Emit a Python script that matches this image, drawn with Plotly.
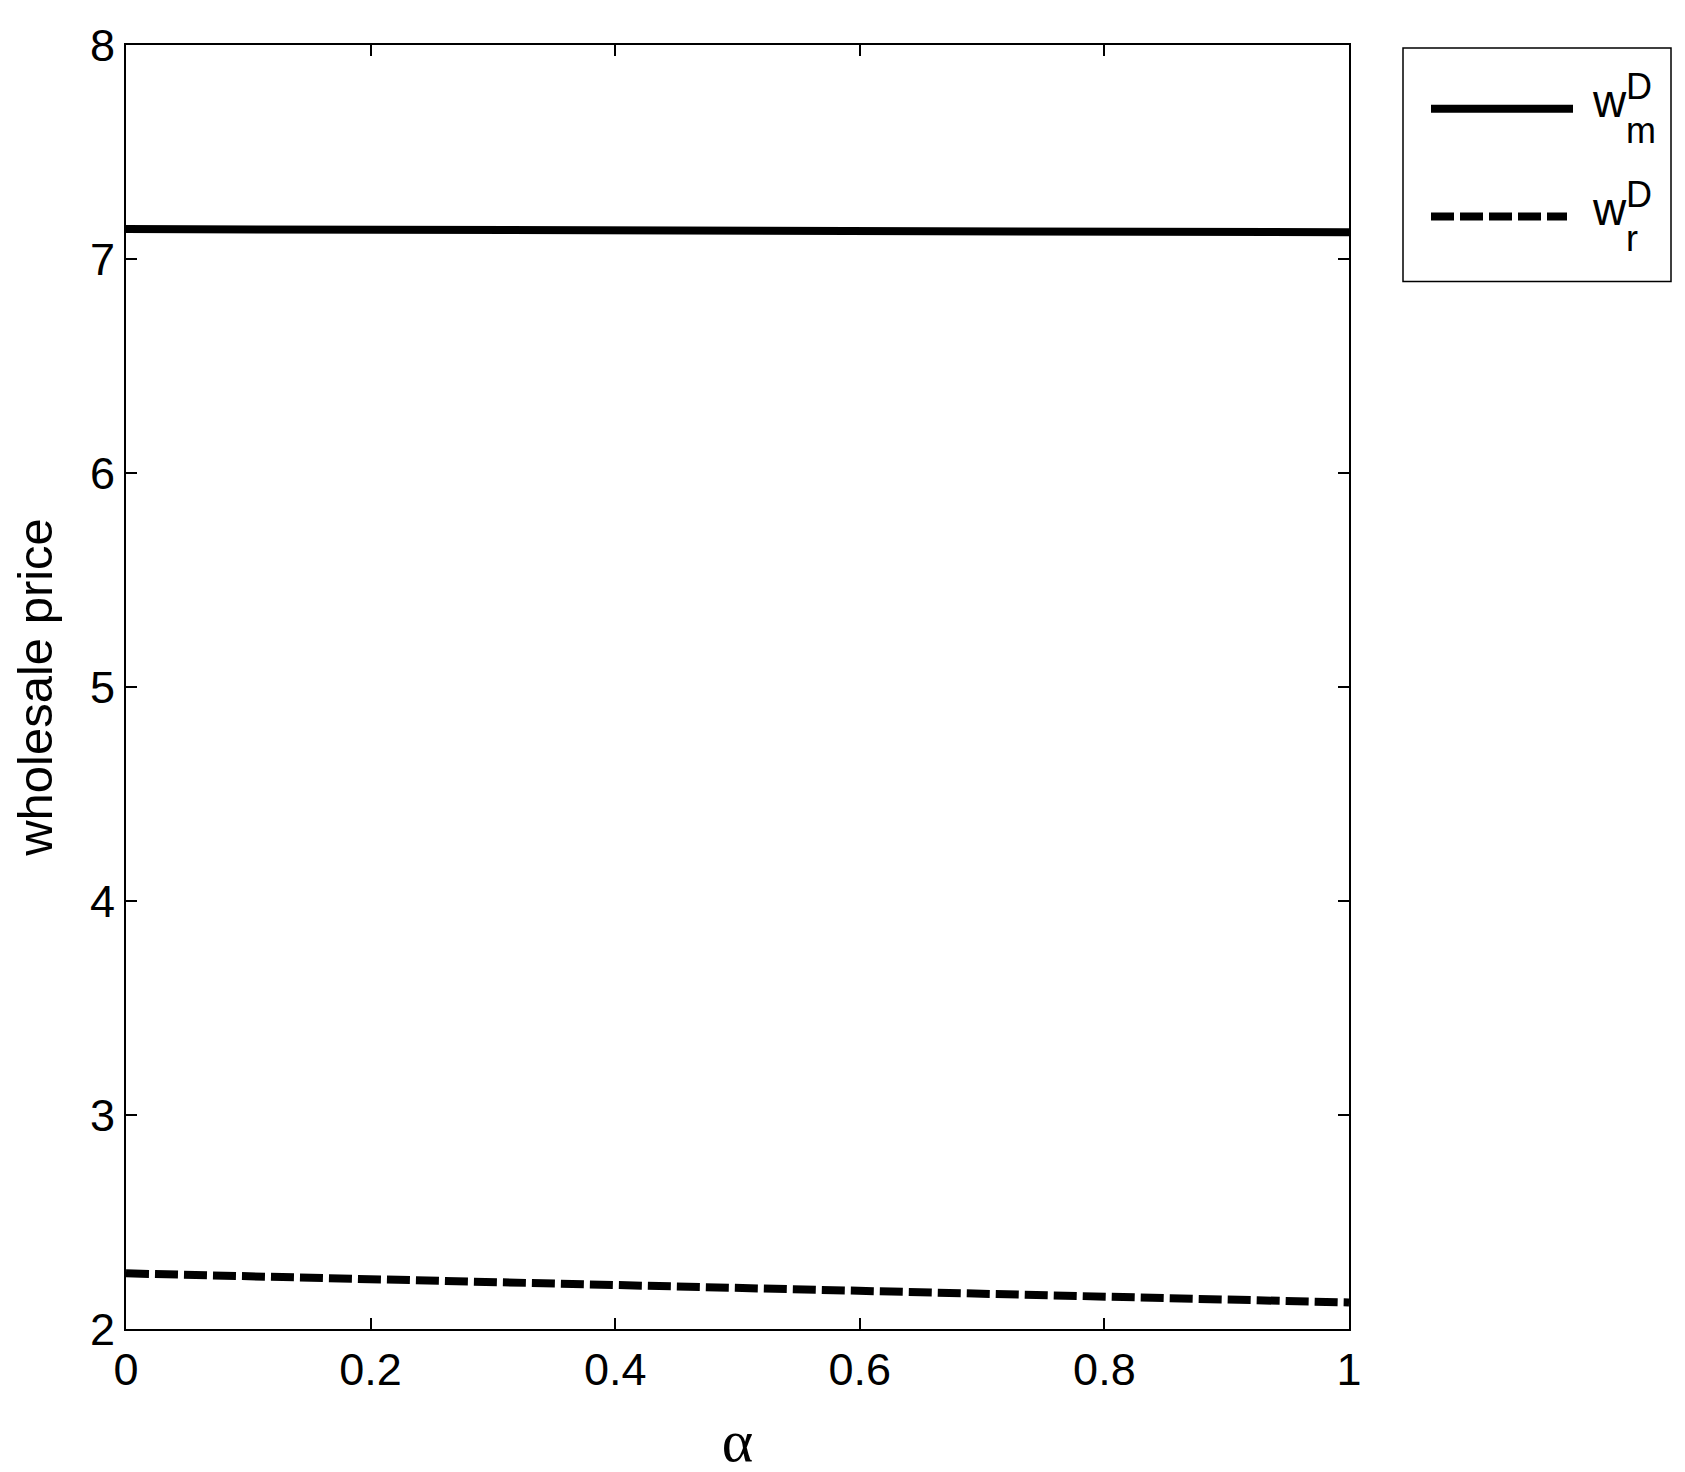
"""Wholesale price vs alpha, MATLAB-style line chart."""

import plotly.graph_objects as go

alpha = [0.0, 0.1, 0.2, 0.3, 0.4, 0.5, 0.6, 0.7, 0.8, 0.9, 1.0]
w_m = [7.140, 7.138, 7.137, 7.135, 7.134, 7.132, 7.131, 7.129, 7.128, 7.126, 7.125]
w_r = [2.260, 2.246, 2.232, 2.218, 2.204, 2.191, 2.178, 2.165, 2.151, 2.138, 2.124]

y_ticks = [2, 3, 4, 5, 6, 7, 8]
x_ticks = [0, 0.2, 0.4, 0.6, 0.8, 1]
x_tick_text = ["0", "0.2", "0.4", "0.6", "0.8", "1"]

W, H = 1685, 1472
L, R, T, B = 126, 1349, 42, 1329  # plot area in page pixels
OFF = 8  # body margin of the html page
DASH = "23px,6px"
SANS = "Liberation Sans, Arial, sans-serif"


def px(x):
    return (x - L) / (R - L)


def py(y):
    return (B - y) / (B - T)


fig = go.Figure()
fig.add_trace(go.Scatter(x=alpha, y=w_m, mode="lines", name="w_m",
                         line=dict(color="black", width=8)))
fig.add_trace(go.Scatter(x=alpha, y=w_r, mode="lines", name="w_r",
                         line=dict(color="black", width=8, dash=DASH)))

axis_common = dict(
    showgrid=False, zeroline=False, showline=True, linecolor="black", linewidth=2,
    mirror="ticks", ticks="inside", ticklen=11, tickwidth=1.5, tickcolor="black",
    tickfont=dict(family=SANS, size=45, color="black"),
)
fig.update_xaxes(range=[0, 1], tickvals=x_ticks, ticktext=x_tick_text,
                 title=dict(text="α", font=dict(family="Liberation Serif, Times New Roman, serif",
                                                size=60, color="black"), standoff=25),
                 **axis_common)
fig.update_yaxes(range=[2, 8], tickvals=y_ticks,
                 title=dict(text="wholesale price", font=dict(family=SANS, size=49, color="black"),
                            standoff=35),
                 **axis_common)

# custom legend box mimicking MATLAB legend
shapes = [
    dict(type="rect", xref="paper", yref="paper", x0=px(1403), x1=px(1671),
         y0=py(279), y1=py(45), line=dict(color="black", width=1.5), fillcolor="white"),
    dict(type="line", xref="paper", yref="paper", x0=px(1431), x1=px(1573),
         y0=py(106), y1=py(106), line=dict(color="black", width=8)),
    dict(type="line", xref="paper", yref="paper", x0=px(1431), x1=px(1567),
         y0=py(214), y1=py(214), line=dict(color="black", width=8, dash=DASH)),
]
annotations = []
for row, sub in enumerate(["m", "r"]):
    dy = row * 108
    for text, xx, yy, size in [("w", 1590, 98 + dy, 46), ("D", 1624, 84 + dy, 36),
                               (sub, 1624, 128 + dy, 36)]:
        annotations.append(dict(text=text, xref="paper", yref="paper", x=px(xx), y=py(yy),
                                xanchor="left", yanchor="middle", showarrow=False,
                                font=dict(family=SANS, size=size, color="black")))

fig.update_layout(
    width=W, height=H, showlegend=False,
    margin=dict(l=L - OFF, r=W - R + OFF, t=T - OFF, b=H - B + OFF),
    plot_bgcolor="white", paper_bgcolor="white",
    shapes=shapes, annotations=annotations,
)
fig.write_html("out.html")
